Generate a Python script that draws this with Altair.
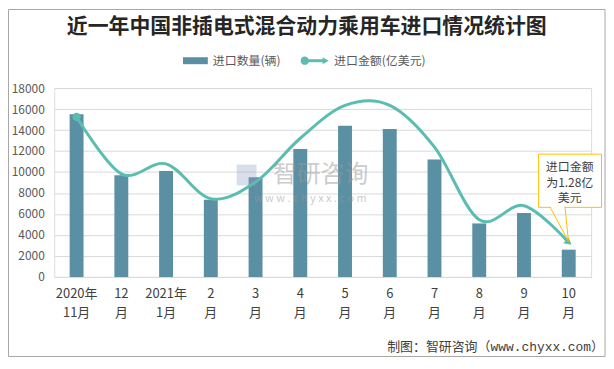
import altair as alt
import pandas as pd

# ---------------- data ----------------
categories = ["2020年\n11月", "12\n月", "2021年\n1月", "2\n月", "3\n月", "4\n月",
              "5\n月", "6\n月", "7\n月", "8\n月", "9\n月", "10\n月"]
quantity = [15500, 9700, 10100, 7350, 9500, 12200, 14400, 14100, 11200, 5100, 6100, 2600]
amount = [5.93, 3.82, 4.19, 2.90, 3.52, 5.14, 6.36, 6.36, 4.81, 2.12, 2.64, 1.28]
y_ticks = list(range(0, 18001, 2000))

title_text = "近一年中国非插电式混合动力乘用车进口情况统计图"
legend_bar = "进口数量(辆)"
legend_line = "进口金额(亿美元)"
note_lines = ["进口金额", "为1.28亿", "美元"]
footer_text = "制图：智研咨询（www.chyxx.com）"

BAR = "#5b8fa4"
LINE = "#5bbdb2"
FONT = "Noto Sans CJK SC"

df = pd.DataFrame({"month": categories, "quantity": quantity, "amount": amount})
one = pd.DataFrame({"k": [0]})

W, H = 540, 190

x_enc = alt.X(
    "month:N", sort=categories,
    scale=alt.Scale(paddingInner=0.689, paddingOuter=0.3445),
    axis=alt.Axis(title=None, labelAngle=0, labelExpr="split(datum.value, '\\n')",
                  labelFontSize=13, labelLineHeight=19, labelPadding=11,
                  labelColor="#404040", labelFont=FONT, ticks=False,
                  domainColor="#d9d9d9", domainWidth=1, grid=False),
)

bars = alt.Chart(df).mark_bar(color=BAR).encode(
    x=x_enc,
    y=alt.Y("quantity:Q", scale=alt.Scale(domain=[0, 18000]),
            axis=alt.Axis(title=None, values=y_ticks, format="d", grid=True, gridColor="#d9d9d9",
                          domain=False, ticks=False, labelPadding=10, labelFontSize=12,
                          labelColor="#595959", labelFont=FONT)),
)

y2 = alt.Y("amount:Q", scale=alt.Scale(domain=[0, 7]), axis=None)
line = alt.Chart(df).mark_line(color=LINE, strokeWidth=3, interpolate="cardinal").encode(
    x=x_enc, y=y2)
first_pt = alt.Chart(df.iloc[[0]]).mark_point(filled=True, color=LINE, size=70, opacity=1).encode(
    x=x_enc, y=y2)
arrow = alt.Chart(df.iloc[[-1]]).mark_point(filled=True, color=LINE, shape="triangle-right",
                                            size=70, angle=39, opacity=1).encode(x=x_enc, y=y2)
line_layer = alt.layer(line, first_pt, arrow)

# watermark
wm_logo = alt.Chart(one).mark_rect(color="#8fa0c4", opacity=0.35).encode(
    x=alt.value(183.5), x2=alt.value(203.5), y=alt.value(77), y2=alt.value(98))
wm_text = alt.Chart(one).mark_text(text="智研咨询", font=FONT, fontSize=24, color="#9a9a9a",
                                   opacity=0.5).encode(x=alt.value(268), y=alt.value(87))
wm_url = alt.Chart(one).mark_text(text="w w w . c h y x x . c o m", font=FONT, fontSize=11,
                                  color="#9a9a9a", opacity=0.5).encode(x=alt.value(257.5), y=alt.value(112))

# title
title = alt.Chart(one).mark_text(text=title_text, font=FONT, fontSize=21, fontWeight="bold",
                                 color="#262626").encode(x=alt.value(254), y=alt.value(-61))

# legend
lg_swatch = alt.Chart(one).mark_rect(color=BAR).encode(
    x=alt.value(129.5), x2=alt.value(154.5), y=alt.value(-31), y2=alt.value(-24))
lg_t1 = alt.Chart(one).mark_text(text=legend_bar, font=FONT, fontSize=12, color="#595959",
                                 align="left").encode(x=alt.value(159.5), y=alt.value(-27.5))
lg_line = alt.Chart(one).mark_rule(color=LINE, strokeWidth=3).encode(
    x=alt.value(250), x2=alt.value(272), y=alt.value(-27.5))
lg_dot = alt.Chart(one).mark_point(filled=True, color=LINE, size=70, opacity=1).encode(
    x=alt.value(252), y=alt.value(-27.5))
lg_arrow = alt.Chart(one).mark_point(filled=True, color=LINE, shape="triangle-right", size=50,
                                     opacity=1).encode(x=alt.value(273), y=alt.value(-27.5))
lg_t2 = alt.Chart(one).mark_text(text=legend_line, font=FONT, fontSize=12, color="#595959",
                                 align="left").encode(x=alt.value(281.5), y=alt.value(-27.5))

# callout
GOLD = "#ffc000"
box = alt.Chart(one).mark_rect(fill="white", stroke=GOLD, strokeWidth=1).encode(
    x=alt.value(487.2), x2=alt.value(550.5), y=alt.value(66.5), y2=alt.value(120))
tail_l = alt.Chart(one).mark_rule(color=GOLD, strokeWidth=1).encode(
    x=alt.value(498.8), x2=alt.value(517.2), y=alt.value(120), y2=alt.value(154))
tail_r = alt.Chart(one).mark_rule(color=GOLD, strokeWidth=1).encode(
    x=alt.value(513.8), x2=alt.value(517.2), y=alt.value(120), y2=alt.value(154))
tail_gap = alt.Chart(one).mark_rule(color="white", strokeWidth=2).encode(
    x=alt.value(499.8), x2=alt.value(512.8), y=alt.value(120))
notes = [
    alt.Chart(one).mark_text(text=t, font=FONT, fontSize=12, color="#404040").encode(
        x=alt.value(518.5), y=alt.value(yy))
    for t, yy in zip(note_lines, [79.5, 95.5, 111])
]

# footer and frame
footer = alt.Chart(one).mark_text(text=footer_text, font="Liberation Mono, " + FONT, fontSize=13,
                                  color="#404040", align="right").encode(
    x=alt.value(553), y=alt.value(260.5))
frame = alt.Chart(one).mark_rect(fill=None, stroke="#a6a6a6", strokeWidth=1).encode(
    x=alt.value(-46), x2=alt.value(554), y=alt.value(-79), y2=alt.value(270))

chart = alt.layer(
    bars, line_layer, wm_logo, wm_text, wm_url, title,
    lg_swatch, lg_t1, lg_line, lg_dot, lg_arrow, lg_t2,
    box, tail_l, tail_r, tail_gap, *notes, footer, frame,
).resolve_scale(y="independent").properties(
    width=W, height=H,
    autosize=alt.AutoSizeParams(type="none"),
    padding={"left": 46.5, "top": 79.5, "right": 15, "bottom": 80.5},
).configure_view(stroke=None).configure(background="white")

chart.save("out.html", embed_options={"renderer": "svg", "actions": False})
